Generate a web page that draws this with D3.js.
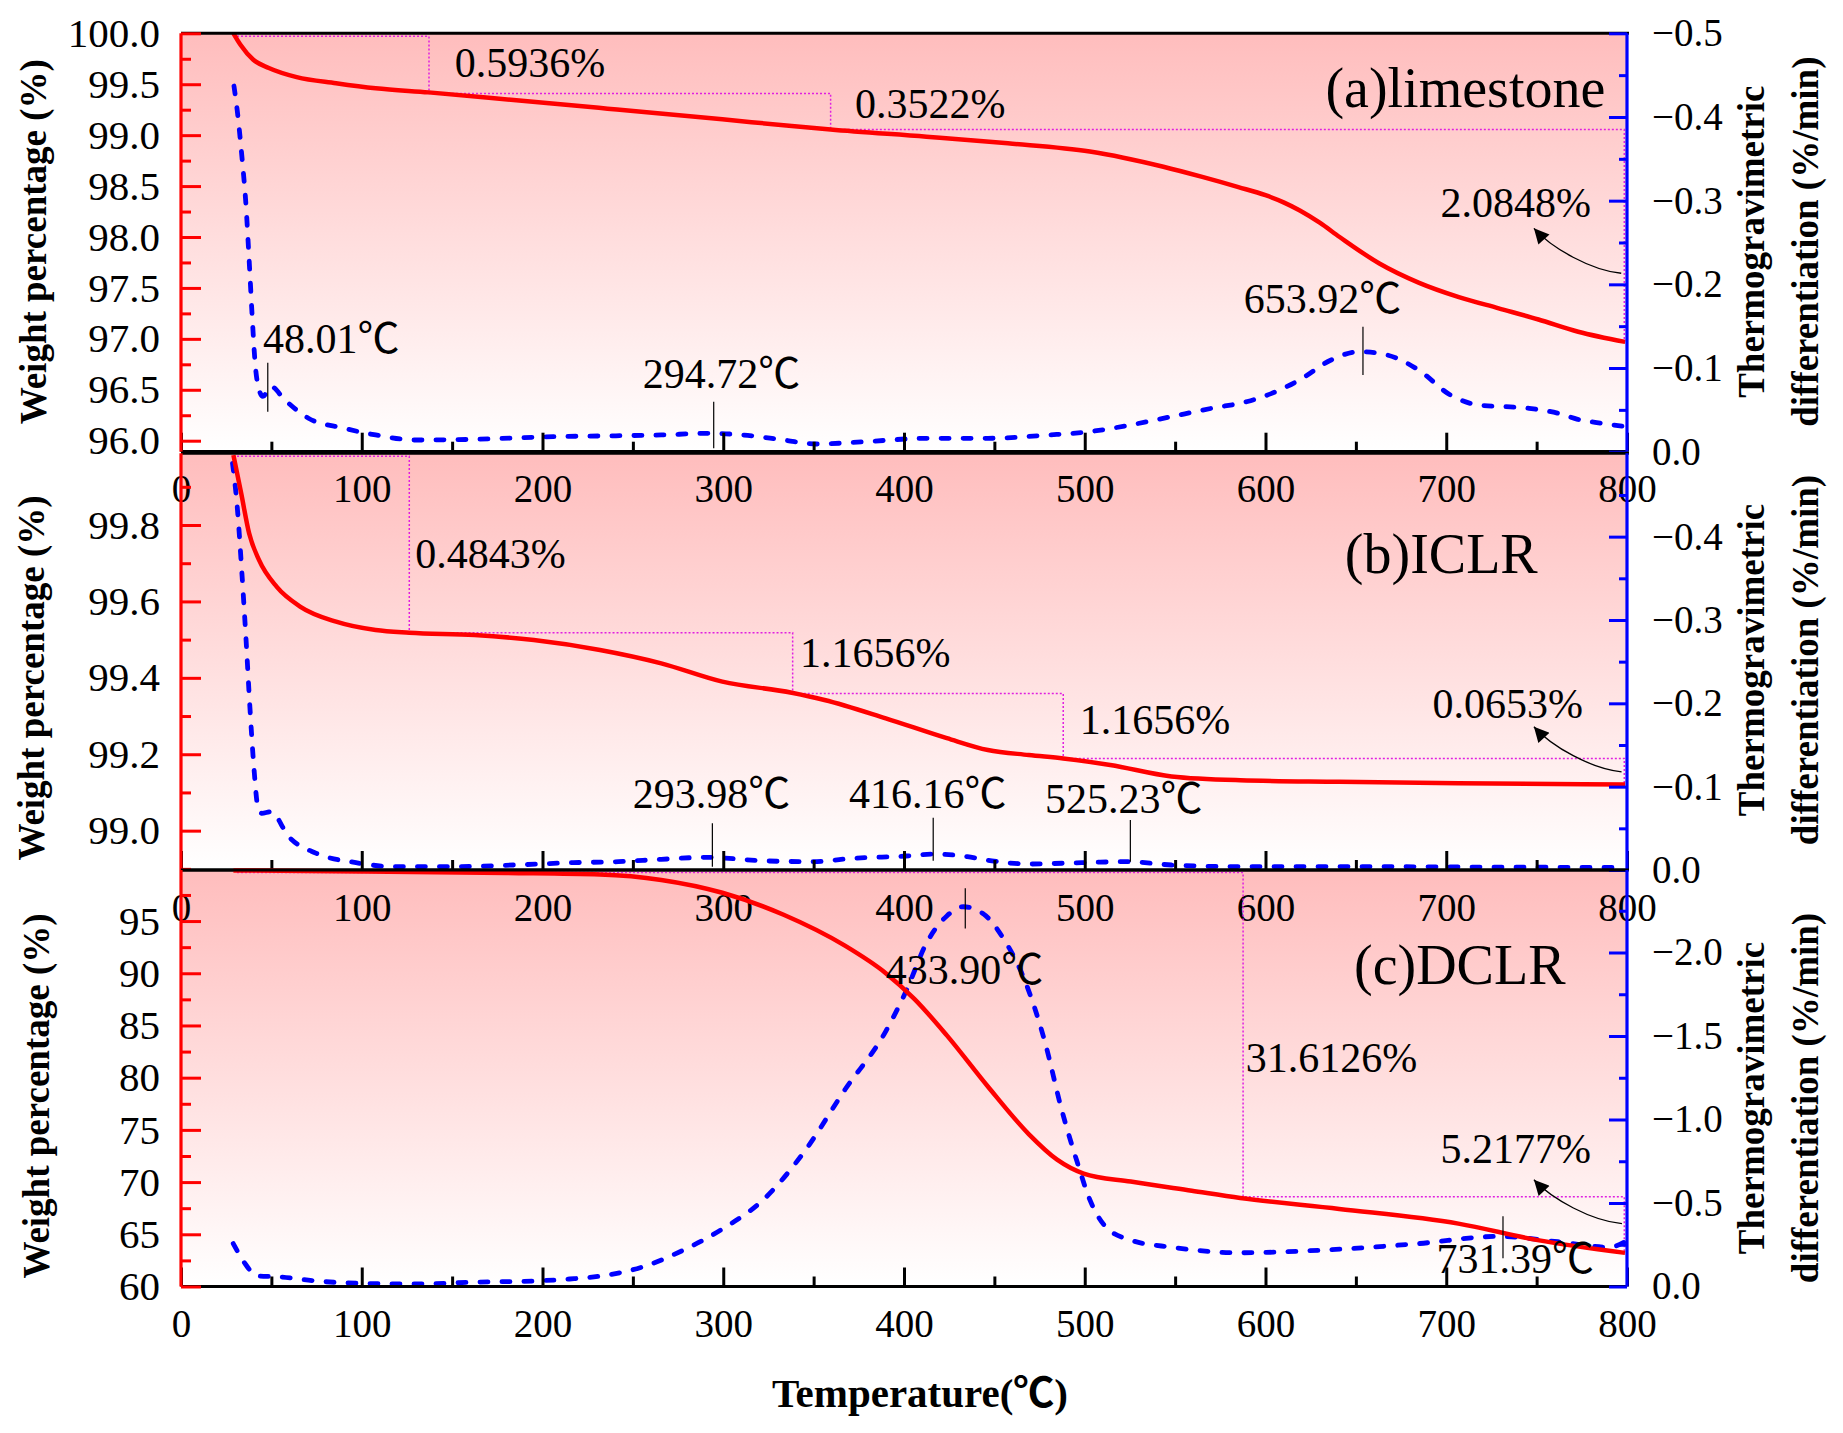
<!DOCTYPE html>
<html>
<head>
<meta charset="utf-8">
<script src="https://cdn.jsdelivr.net/npm/d3@7"></script>
<style>
  html, body { margin: 0; padding: 0; background: #fff; }
  svg text { font-family: "Liberation Serif", "Times New Roman", "Noto Sans CJK SC", serif; }
</style>
</head>
<body>
<svg id="chart" width="1843" height="1433"></svg>
<script>
// ---- temperature axis ----
const xTicks = [0, 100, 200, 300, 400, 500, 600, 700, 800];
const xMinor = [50, 150, 250, 350, 450, 550, 650, 750];

// ---- (a) limestone ----
const tgTempA = [29, 33, 40, 48.6, 64, 85.8, 107.7, 137, 184, 236, 299.5, 337.9, 359.4, 412.4, 457.5, 502.8, 543.5, 565, 585, 600, 610, 619, 630, 641, 663, 685, 707, 729, 751, 773, 799];
const tgA     = [100, 99.885, 99.74, 99.66, 99.57, 99.51, 99.46, 99.42, 99.345, 99.26, 99.155, 99.09, 99.055, 98.985, 98.92, 98.84, 98.69, 98.59, 98.49, 98.41, 98.34, 98.26, 98.14, 98.0, 97.74, 97.55, 97.41, 97.30, 97.19, 97.07, 96.97];
const dtgTempA = [29.3, 31.1, 33.7, 36, 37.7, 39.4, 41, 43.2, 45.3, 49.7, 57.4, 70.5, 90.2, 107.7, 129.6, 162.4, 206, 240, 265.7, 291.7, 310.9, 333.4, 351.5, 378.6, 412.4, 446.4, 480.2, 502.8, 525.4, 548, 570.5, 590, 606, 618.8, 636.3, 651.7, 667.2, 684.7, 702.3, 717.7, 745, 761.7, 772.7, 785.8, 798.9];
const dtgA     = [-0.437, -0.408, -0.3525, -0.293, -0.229, -0.161, -0.106, -0.074, -0.066, -0.078, -0.062, -0.040, -0.028, -0.020, -0.014, -0.0148, -0.018, -0.019, -0.020, -0.022, -0.020, -0.014, -0.0092, -0.012, -0.016, -0.016, -0.020, -0.024, -0.032, -0.042, -0.052, -0.06, -0.072, -0.0857, -0.1096, -0.1195, -0.1156, -0.0976, -0.0678, -0.0558, -0.052, -0.046, -0.0387, -0.034, -0.030];
const stepTempA  = [31, 137.2, 359.4, 798.5];
const stepLevelA = [99.97, 99.41, 99.055, 96.97];
const lossA = ["0.5936%", "0.3522%", "2.0848%"];
const peakA = [48.01, 294.72, 653.92];

// ---- (b) ICLR ----
const tgTempB = [29, 33.3, 37.7, 43.2, 53, 66.1, 85.8, 107.7, 126.3, 162.4, 195.2, 231.8, 265.7, 299.5, 337.9, 356, 389.9, 423.7, 446.4, 469, 488.1, 514.1, 548, 586, 640.8, 706.7, 798.9];
const tgB     = [99.983, 99.883, 99.778, 99.708, 99.638, 99.586, 99.547, 99.525, 99.518, 99.512, 99.499, 99.473, 99.438, 99.39, 99.361, 99.342, 99.294, 99.242, 99.211, 99.198, 99.189, 99.172, 99.142, 99.132, 99.128, 99.124, 99.121];
const dtgTempB = [28.5, 31.1, 33.7, 36, 38.1, 40.3, 42.5, 44.7, 49.7, 59.6, 74.9, 96.8, 118.6, 151.4, 184.2, 217, 242, 265.7, 290.5, 322.2, 349.2, 371.8, 401.2, 417, 435, 448.6, 469, 498.3, 523.1, 548, 585.9, 650, 720, 798.9];
const dtgB     = [-0.488, -0.436, -0.356, -0.276, -0.196, -0.124, -0.076, -0.068, -0.070, -0.040, -0.020, -0.0088, -0.004, -0.004, -0.006, -0.0088, -0.010, -0.0128, -0.0152, -0.011, -0.010, -0.014, -0.0168, -0.0192, -0.016, -0.011, -0.0072, -0.0088, -0.010, -0.006, -0.004, -0.004, -0.0035, -0.003];
const stepTempB  = [31, 126.3, 338.4, 488.1, 798.5];
const stepLevelB = [99.98, 99.518, 99.359, 99.189, 99.124];
const lossB = ["0.4843%", "1.1656%", "1.1656%", "0.0653%"];
const peakB = [293.98, 416.16, 525.23];

// ---- (c) DCLR ----
const tgTempC = [29, 100, 180, 231.8, 265.7, 299.5, 333.4, 367.3, 389.9, 405.7, 423.7, 446.4, 469, 484.7, 499.4, 525.4, 559.2, 586, 640.8, 706.7, 750.6, 798.9];
const tgC     = [99.85, 99.75, 99.6, 99.46, 98.94, 97.71, 95.6, 92.64, 90.01, 87.55, 84.05, 79.15, 74.6, 72.15, 70.82, 70.05, 69.17, 68.48, 67.43, 66.02, 64.44, 63.22];
const dtgTempC = [28.9, 35.5, 42, 53, 74.9, 96.8, 129.6, 162.4, 195.2, 215, 231.8, 254.4, 277, 299.5, 322.2, 344.7, 367.3, 389.9, 401.2, 412.4, 423.7, 432.8, 444.1, 455.4, 466.7, 478, 487, 496, 502.8, 511.8, 525.4, 548, 585.9, 629.8, 684.7, 728.6, 761.7, 790.3, 798.9];
const dtgC     = [-0.257, -0.136, -0.064, -0.059, -0.033, -0.0197, -0.015, -0.026, -0.033, -0.045, -0.062, -0.114, -0.213, -0.344, -0.52, -0.805, -1.178, -1.528, -1.77, -2.055, -2.219, -2.274, -2.23, -2.077, -1.836, -1.463, -1.068, -0.739, -0.52, -0.355, -0.278, -0.235, -0.202, -0.217, -0.257, -0.30, -0.268, -0.235, -0.268];
const stepTempC  = [31, 587.6, 798.5];
const stepLevelC = [99.65, 68.6, 63.4];
const lossC = ["31.6126%", "5.2177%"];
const peakC = [433.90, 731.39];

// ---- tick labels ----
const wTicksA = [96.0, 96.5, 97.0, 97.5, 98.0, 98.5, 99.0, 99.5, 100.0];
const wMinorA = [96.25, 96.75, 97.25, 97.75, 98.25, 98.75, 99.25, 99.75];
const wTicksB = [99.0, 99.2, 99.4, 99.6, 99.8];
const wMinorB = [98.9, 99.1, 99.3, 99.5, 99.7, 99.9];
const wTicksC = [60, 65, 70, 75, 80, 85, 90, 95];
const wMinorC = [62.5, 67.5, 72.5, 77.5, 82.5, 87.5, 92.5, 97.5];
const dTicksA = [-0.5, -0.4, -0.3, -0.2, -0.1, 0.0];
const dTicksB = [-0.4, -0.3, -0.2, -0.1, 0.0];
const dMinorAB = [-0.45, -0.35, -0.25, -0.15, -0.05];
const dTicksC = [-2.0, -1.5, -1.0, -0.5, 0.0];
const dMinorC = [-2.25, -1.75, -1.25, -0.75, -0.25];

const plotLeft = 181, plotRight = 1627;
const svg = d3.select("#chart");

const panels = [
  { top: 33.3, bottom: 451.7, wDomain: [95.892, 100], dDomain: [0, -0.5],
    wTicks: wTicksA, wMinor: wMinorA, wFmt: ".1f", dTicks: dTicksA, dMinor: dMinorAB,
    tgT: tgTempA, tg: tgA, dtgT: dtgTempA, dtg: dtgA, stepT: stepTempA, stepW: stepLevelA,
    losses: lossA, lossAt: [[151.4, 99.574], [372.9, 99.165], [696.8, 98.199]],
    arrow: [[796.8, 97.644], [748.5, 98.085]],
    name: "(a)limestone", nameAt: [788, 99.279],
    peaks: peakA, peakMark: [[-0.1064, -0.0478], [-0.0598, -0.0041], [-0.1494, -0.0917]],
    peakAt: [[45.4, -0.1183], [255.5, -0.0758], [588, -0.1654]],
    leftTitle: [45.5, 241.7], rightTitleY: 241.7 },
  { top: 453.3, bottom: 870, wDomain: [98.897, 99.9877], dDomain: [0, -0.5],
    wTicks: wTicksB, wMinor: wMinorB, wFmt: ".1f", dTicks: dTicksB, dMinor: dMinorAB,
    tgT: tgTempB, tg: tgB, dtgT: dtgTempB, dtg: dtgB, stepT: stepTempB, stepW: stepLevelB,
    losses: lossB, lossAt: [[129.6, 99.687], [342.5, 99.4275], [497.2, 99.253], [692.4, 99.294]],
    arrow: [[797, 99.154], [748.5, 99.272]],
    name: "(b)ICLR", nameAt: [750.6, 99.675],
    peaks: peakB, peakMark: [[-0.056, -0.004], [-0.0628, -0.0112], [-0.060, -0.010]],
    peakAt: [[249.9, -0.074], [369.6, -0.074], [478, -0.068]],
    leftTitle: [44, 678], rightTitleY: 660 },
  { top: 870, bottom: 1286.5, wDomain: [60, 99.89], dDomain: [0, -2.494],
    wTicks: wTicksC, wMinor: wMinorC, wFmt: "d", dTicks: dTicksC, dMinor: dMinorC,
    tgT: tgTempC, tg: tgC, dtgT: dtgTempC, dtg: dtgC, stepT: stepTempC, stepW: stepLevelC,
    losses: lossC, lossAt: [[589.1, 80.557], [696.8, 71.796]],
    arrow: [[797.2, 66.02], [748.5, 70.22]],
    name: "(c)DCLR", nameAt: [766, 88.96],
    peaks: peakC, peakMark: [[-2.384, -2.143], [-0.421, -0.169]],
    peakAt: [[389.9, -1.814], [694.6, -0.081]],
    leftTitle: [49, 1096], rightTitleY: 1098 }
];

const defs = svg.append("defs");
const grad = defs.append("linearGradient").attr("id", "bg")
  .attr("x1", 0).attr("y1", 0).attr("x2", 0).attr("y2", 1);
grad.append("stop").attr("offset", "0%").attr("stop-color", "#ffbdbd");
grad.append("stop").attr("offset", "100%").attr("stop-color", "#ffffff");

defs.append("marker").attr("id", "arrowhead")
  .attr("viewBox", "0 0 10 10").attr("refX", 10).attr("refY", 5)
  .attr("markerUnits", "userSpaceOnUse").attr("markerWidth", 24).attr("markerHeight", 15)
  .attr("orient", "auto")
  .append("path").attr("d", "M0,0 L10,5 L0,10 Z").attr("fill", "#000");

const x = d3.scaleLinear().domain([0, 800]).range([plotLeft, plotRight]);

// backgrounds first, so the axis labels of one panel sit over the next
panels.forEach(p => {
  svg.append("rect")
    .attr("x", plotLeft).attr("y", p.top)
    .attr("width", plotRight - plotLeft).attr("height", p.bottom - p.top)
    .attr("fill", "url(#bg)");
});

panels.forEach(p => {
  const yW = d3.scaleLinear().domain(p.wDomain).range([p.bottom, p.top]);
  const yD = d3.scaleLinear().domain(p.dDomain).range([p.bottom, p.top]);
  const g = svg.append("g");

  // step lines of the weight losses
  const pts = [[p.stepT[0], p.stepW[0]]];
  for (let i = 1; i < p.stepT.length; i++) {
    pts.push([p.stepT[i], p.stepW[i - 1]]);
    pts.push([p.stepT[i], p.stepW[i]]);
  }
  g.append("path")
    .attr("d", d3.line().x(d => x(d[0])).y(d => yW(d[1]))(pts))
    .attr("fill", "none").attr("stroke", "#e020e0")
    .attr("stroke-width", 1.5).attr("stroke-dasharray", "2,2");

  // DTG dashed
  const dtgData = p.dtgT.map((t, i) => [t, p.dtg[i]]);
  g.append("path")
    .attr("d", d3.line().x(d => x(d[0])).y(d => yD(d[1])).curve(d3.curveMonotoneX)(dtgData))
    .attr("fill", "none").attr("stroke", "#0000ff")
    .attr("stroke-width", 4.8).attr("stroke-linecap", "round")
    .attr("stroke-dasharray", "8,14");

  // TG solid
  const tgData = p.tgT.map((t, i) => [t, p.tg[i]]);
  g.append("path")
    .attr("d", d3.line().x(d => x(d[0])).y(d => yW(d[1])).curve(d3.curveMonotoneX)(tgData))
    .attr("fill", "none").attr("stroke", "#ff0000").attr("stroke-width", 4.5);

  // loss labels
  p.losses.forEach((s, i) => {
    g.append("text").attr("x", x(p.lossAt[i][0])).attr("y", yW(p.lossAt[i][1]))
      .attr("font-size", 42).text(s);
  });

  // curved arrow to the last loss label
  const sx = x(p.arrow[0][0]), sy = yW(p.arrow[0][1]);
  const tx = x(p.arrow[1][0]), ty = yW(p.arrow[1][1]);
  const dx = sx - tx, dy = sy - ty;
  const c1 = [sx - 0.345 * dx, sy - 0.067 * dy];
  const c2 = [tx + 0.207 * dx, ty + 0.447 * dy];
  g.append("path")
    .attr("d", `M${sx},${sy} C${c1[0]},${c1[1]} ${c2[0]},${c2[1]} ${tx},${ty}`)
    .attr("fill", "none").attr("stroke", "#000").attr("stroke-width", 1.3)
    .attr("marker-end", "url(#arrowhead)");

  // sample name
  g.append("text").attr("x", x(p.nameAt[0])).attr("y", yW(p.nameAt[1]))
    .attr("text-anchor", "end").attr("font-size", 56).text(p.name);

  // peak markers
  p.peaks.forEach((t, i) => {
    g.append("line").attr("x1", x(t)).attr("x2", x(t))
      .attr("y1", yD(p.peakMark[i][0])).attr("y2", yD(p.peakMark[i][1]))
      .attr("stroke", "#000").attr("stroke-width", 1.2);
    g.append("text").attr("x", x(p.peakAt[i][0])).attr("y", yD(p.peakAt[i][1]))
      .attr("font-size", 42).text(d3.format(".2f")(t) + "℃");
  });

  // top frame
  g.append("line").attr("x1", plotLeft).attr("x2", plotRight + 2)
    .attr("y1", p.top).attr("y2", p.top).attr("stroke", "#000").attr("stroke-width", 3);

  // bottom axis
  g.append("line").attr("x1", plotLeft).attr("x2", plotRight)
    .attr("y1", p.bottom).attr("y2", p.bottom).attr("stroke", "#000").attr("stroke-width", 3.2);
  g.append("g").attr("transform", `translate(0,${p.bottom})`)
    .call(d3.axisBottom(x).tickValues(xTicks).tickFormat(d3.format("d"))
      .tickSizeInner(-19).tickSizeOuter(0).tickPadding(23))
    .call(a => a.select(".domain").remove())
    .call(a => a.selectAll("line").attr("stroke", "#000").attr("stroke-width", 3))
    .call(a => a.selectAll("text").attr("fill", "#000").attr("font-size", 39));
  g.append("g").attr("transform", `translate(0,${p.bottom})`)
    .call(d3.axisBottom(x).tickValues(xMinor).tickFormat("").tickSizeInner(-10).tickSizeOuter(0))
    .call(a => a.select(".domain").remove())
    .call(a => a.selectAll("line").attr("stroke", "#000").attr("stroke-width", 3));

  // left weight axis
  g.append("g").attr("transform", `translate(${plotLeft},0)`)
    .call(d3.axisLeft(yW).tickValues(p.wTicks).tickFormat(d3.format(p.wFmt))
      .tickSizeInner(-20).tickSizeOuter(0).tickPadding(21))
    .call(a => a.select(".domain").remove())
    .call(a => a.selectAll("line").attr("stroke", "#ff0000").attr("stroke-width", 3))
    .call(a => a.selectAll("text").attr("fill", "#000").attr("font-size", 41));
  g.append("g").attr("transform", `translate(${plotLeft},0)`)
    .call(d3.axisLeft(yW).tickValues(p.wMinor).tickFormat("").tickSizeInner(-10).tickSizeOuter(0))
    .call(a => a.select(".domain").remove())
    .call(a => a.selectAll("line").attr("stroke", "#ff0000").attr("stroke-width", 3));
  g.append("line").attr("x1", plotLeft).attr("x2", plotLeft)
    .attr("y1", p.top).attr("y2", p.bottom).attr("stroke", "#ff0000").attr("stroke-width", 3.2);

  // right DTG axis
  g.append("g").attr("transform", `translate(${plotRight},0)`)
    .call(d3.axisRight(yD).tickValues(p.dTicks).tickFormat(d3.format(".1f"))
      .tickSizeInner(-18).tickSizeOuter(0).tickPadding(25))
    .call(a => a.select(".domain").remove())
    .call(a => a.selectAll("line").attr("stroke", "#0000ff").attr("stroke-width", 3))
    .call(a => a.selectAll("text").attr("fill", "#000").attr("font-size", 39));
  g.append("g").attr("transform", `translate(${plotRight},0)`)
    .call(d3.axisRight(yD).tickValues(p.dMinor).tickFormat("").tickSizeInner(-8).tickSizeOuter(0))
    .call(a => a.select(".domain").remove())
    .call(a => a.selectAll("line").attr("stroke", "#0000ff").attr("stroke-width", 3));
  g.append("line").attr("x1", plotRight).attr("x2", plotRight)
    .attr("y1", p.top).attr("y2", p.bottom).attr("stroke", "#0000ff").attr("stroke-width", 3.2);

  // axis titles
  g.append("text")
    .attr("transform", `translate(${p.leftTitle[0]},${p.leftTitle[1]}) rotate(-90)`)
    .attr("text-anchor", "middle").attr("font-size", 37).attr("font-weight", "bold")
    .text("Weight percentage (%)");
  g.append("text")
    .attr("transform", `translate(1764,${p.rightTitleY}) rotate(-90)`)
    .attr("text-anchor", "middle").attr("font-size", 37).attr("font-weight", "bold")
    .text("Thermogravimetric");
  g.append("text")
    .attr("transform", `translate(1818,${p.rightTitleY}) rotate(-90)`)
    .attr("text-anchor", "middle").attr("font-size", 37).attr("font-weight", "bold")
    .text("differentiation (%/min)");
});

svg.append("text").attr("x", 920).attr("y", 1407)
  .attr("text-anchor", "middle").attr("font-size", 41).attr("font-weight", "bold")
  .text("Temperature(℃)");
</script>
</body>
</html>
